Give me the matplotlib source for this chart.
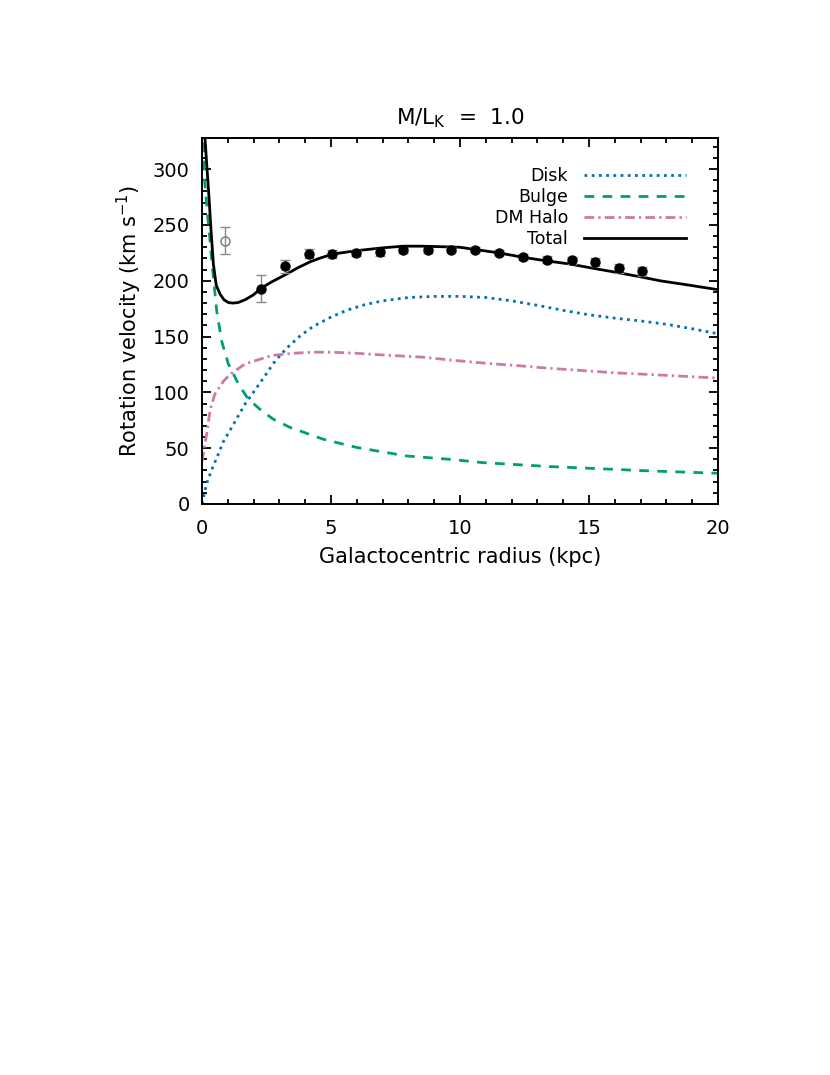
import matplotlib
matplotlib.use('Agg')
import matplotlib.pyplot as plt
from matplotlib.ticker import MultipleLocator

plt.rcParams['font.family'] = ['DejaVu Sans']
plt.rcParams['mathtext.fontset'] = 'dejavusans'

# model curves (radius kpc, velocity km/s)
r_total = [0.08, 0.12, 0.18, 0.27, 0.35, 0.44, 0.55, 0.7, 0.85, 1.02, 1.2, 1.4, 1.67, 2.0,
           2.27, 2.7, 3.28, 3.7, 4.19, 4.6, 5.08, 6.0, 7.0, 7.8, 8.5, 9.3, 10.0, 10.6,
           11.5, 12.45, 13.3, 14.26, 15.2, 16.07, 17.0, 17.75, 18.9, 20.0]
v_total = [345, 326, 305, 275, 245, 215, 196, 188, 183, 180.5, 180, 180.5, 183, 187.5,
           193, 199, 206, 211.5, 217, 220.5, 224, 227, 229.5, 231, 231, 230.5, 230, 228,
           225, 221, 218, 215, 211, 207.5, 203.5, 200, 196, 192]

r_disk = [0, 0.18, 0.4, 0.63, 0.83, 1.15, 1.67, 2.31, 2.83, 3.3, 3.8, 4.3, 4.96, 5.6,
          6.3, 7.0, 8.0, 9.0, 10.0, 11.0, 12.0, 13.0, 14.0, 15.0, 16.0, 17.0,
          18.0, 19.0, 20.0]
v_disk = [0, 18.5, 32, 44.6, 56, 68.6, 89.6, 110.5, 128, 140, 150.5, 159, 167, 173.5,
          178.5, 182, 185, 186, 186, 185, 182, 178, 173.5, 169.5, 166.5, 164,
          161, 157, 152.5]

r_bulge = [0.02, 0.1, 0.2, 0.31, 0.44, 0.57, 0.76, 1.02, 1.41, 1.79, 2.31, 2.76, 3.41,
           4.7, 6.0, 7.93, 9.6, 10.9, 13.49, 15.5, 17.36, 19.0, 20.0]
v_bulge = [340, 290, 263, 236, 203, 173, 146, 125.5, 107.5, 94, 83.6, 76, 68.6,
           58, 50.6, 43, 40, 37, 33.5, 31.5, 29.6, 28.3, 27.5]

r_halo = [0, 0.05, 0.12, 0.18, 0.31, 0.44, 0.5, 0.83, 1.11, 1.67, 2.7, 3.5, 4.31, 5.0,
          6.0, 7.0, 8.58, 9.6, 11.03, 12.2, 13.5, 14.78, 16.0, 17.36, 18.6, 19.8, 20.0]
v_halo = [38, 44.6, 55, 62.5, 83.6, 94, 98.5, 110, 116.5, 125.5, 133, 135, 136, 136,
          135, 133.5, 131.5, 129, 126, 124, 121.5, 119.5, 117.5, 116, 114.5, 113, 112.8]

# observed rotation curve
r_obs = [2.27, 3.22, 4.13, 5.05, 5.97, 6.90, 7.80, 8.75, 9.66, 10.58, 11.52, 12.43,
         13.36, 14.33, 15.23, 16.16, 17.07]
v_obs = [192.9, 212.9, 224.3, 223.7, 224.9, 225.5, 227.3, 227.3, 227.9, 227.9, 225.2,
         221.3, 218.9, 218.3, 216.5, 211.4, 208.7]
e_obs = [12, 6, 4, 3.5, 3, 3, 2.5, 2.5, 2.5, 2.5, 2.5, 3, 3, 3, 3.5, 4, 4]

# inner point (open symbol)
r_in = [0.89]
v_in = [236]
e_in = [12]

fig = plt.figure(figsize=(8.3, 10.75), dpi=100)
ax = fig.add_axes([0.2434, 0.5312, 0.6217, 0.3405])

ax.plot(r_disk, v_disk, color='#0072B2', lw=2.0, ls=(0, (1, 1.6)), label='Disk')
ax.plot(r_bulge, v_bulge, color='#009E73', lw=2.0, ls=(0, (3.5, 3)), label='Bulge')
ax.plot(r_halo, v_halo, color='#CC79A7', lw=2.0, ls=(0, (3.5, 1.5, 0.8, 1.5)), label='DM Halo')
ax.plot(r_total, v_total, color='black', lw=2.0, label='Total')

ax.errorbar(r_obs, v_obs, yerr=e_obs, fmt='o', color='black', ms=6.5,
            ecolor='#888888', elinewidth=1.0, capsize=3.5, capthick=1.0, zorder=5)
ax.errorbar(r_in, v_in, yerr=e_in, fmt='o', mfc='none', mec='#777777', mew=1.0,
            ms=6.5, ecolor='#888888', elinewidth=1.0, capsize=3.5, capthick=1.0, zorder=5)

ax.set_xlim(0, 20)
ax.set_ylim(0, 328)
ax.xaxis.set_major_locator(MultipleLocator(5))
ax.xaxis.set_minor_locator(MultipleLocator(1))
ax.yaxis.set_major_locator(MultipleLocator(50))
ax.yaxis.set_minor_locator(MultipleLocator(10))
ax.tick_params(which='both', direction='in', top=True, right=True, width=1.3)
ax.tick_params(which='major', length=6.5, labelsize=14)
ax.tick_params(axis='x', which='major', pad=11)
ax.tick_params(axis='y', which='major', pad=9)
ax.tick_params(which='minor', length=3.5)
for s in ax.spines.values():
    s.set_linewidth(1.4)

ax.set_xlabel('Galactocentric radius (kpc)', fontsize=15, labelpad=6)
ax.set_ylabel('Rotation velocity (km s$^{-1}$)', fontsize=15, labelpad=6)
ax.set_title('M/L$_{\\mathregular{K}}$  =  1.0', fontsize=15.5, pad=10)

ax.legend(loc='upper right', bbox_to_anchor=(0.938, 0.92), frameon=False,
          markerfirst=False, fontsize=12.5, handlelength=5.9, handletextpad=0.9,
          labelspacing=0.17, borderpad=0, borderaxespad=0)

fig.savefig('out.png', dpi=100)
